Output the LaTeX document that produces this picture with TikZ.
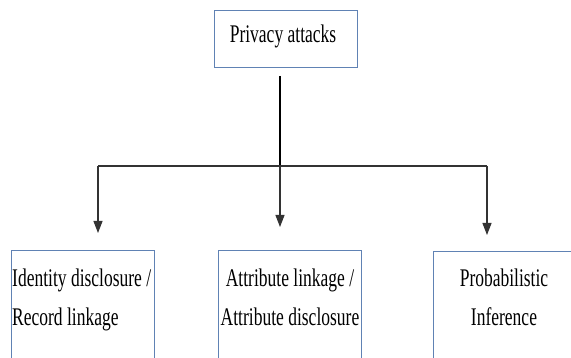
\documentclass[tikz,border=0pt]{standalone}
\usepackage{fontspec}
\setmainfont{Liberation Serif}
\usetikzlibrary{arrows.meta}
\definecolor{boxblue}{RGB}{96,130,180}

\tikzset{
  box/.style={draw=boxblue, line width=1pt, inner sep=0pt, anchor=north west},
  lbl/.style={font=\fontsize{17.5}{27}\selectfont, inner sep=0pt, yscale=1.45},
  link/.style={draw=black!80, line width=1.1pt},
  drop/.style={link, -{Triangle[width=9pt,length=12pt]}},
}

\begin{document}
\begin{tikzpicture}[x=1pt,y=1pt]
\useasboundingbox (0,0) rectangle (571,-358);
\clip (0,0) rectangle (571,-358);

\node[box, minimum width=143pt, minimum height=57pt] (topbox) at (214,-10) {};
\node[lbl, anchor=base] (toptext) at (283,-43) {Privacy attacks};

\node[box, minimum width=143pt, minimum height=150pt] (idbox) at (11,-250) {};
\node[box, minimum width=143pt, minimum height=150pt] (attrbox) at (218,-250) {};
\node[box, minimum width=160pt, minimum height=150pt] (probbox) at (433,-251) {};

\node[lbl, align=left, anchor=north west] (idtext) at (12,-268.5) {Identity disclosure /\\Record linkage};
\node[lbl, align=center, anchor=north] (attrtext) at (290,-268.5) {Attribute linkage /\\Attribute disclosure};
\node[lbl, align=center, anchor=north] (probtext) at (504,-268.5) {Probabilistic\\Inference};

\coordinate (fork) at (280,-166);
\coordinate (idtip) at (98,-233);
\coordinate (attrtip) at (280,-227);
\coordinate (probtip) at (487,-235);

\draw[line width=2pt, shorten <=8pt] (topbox.south -| fork) -- (fork);
\draw[link] (idtip |- fork) -- (probtip |- fork);
\draw[drop] (idtip |- fork) -- (idtip);
\draw[drop] (fork) -- (attrtip);
\draw[drop] (probtip |- fork) -- (probtip);
\end{tikzpicture}
\end{document}
